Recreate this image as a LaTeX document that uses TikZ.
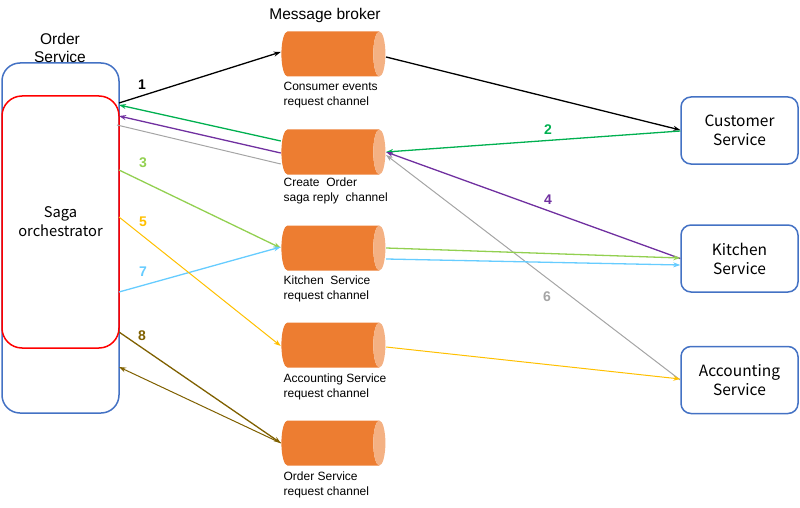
\documentclass[tikz,border=0pt]{standalone}
\usepackage{fontspec}
\setmainfont{Liberation Sans}
\newfontfamily\jpfont{Noto Sans CJK JP}
\usetikzlibrary{shapes.geometric,arrows.meta}
\definecolor{boxblue}{HTML}{4472C4}
\definecolor{sagared}{HTML}{FF0000}
\definecolor{cylbody}{HTML}{ED7D31}
\definecolor{cylend}{HTML}{F4B183}
\definecolor{cgreen}{HTML}{00B050}
\definecolor{cpurple}{HTML}{7030A0}
\definecolor{cgray}{HTML}{A5A5A5}
\definecolor{clime}{HTML}{92D050}
\definecolor{csky}{HTML}{66CCFF}
\definecolor{cyellow}{HTML}{FFC000}
\definecolor{cbrown}{HTML}{7F6000}
\begin{document}
\begin{tikzpicture}[x=1pt,y=-1pt,>={Stealth[length=7pt,width=5pt]},line width=1.3pt,
  chan/.style={cylinder,aspect=0.27,minimum width=45pt,minimum height=104pt,inner xsep=0pt,inner ysep=22.5pt,
    cylinder uses custom fill,cylinder body fill=cylbody,cylinder end fill=cylend,draw=none},
  chanlabel/.style={anchor=north west,align=left,font=\fontsize{12}{15}\selectfont,inner sep=0pt},
  svc/.style={draw=boxblue,line width=1.5pt,rounded corners=10pt,minimum width=117pt,minimum height=67pt,
    align=center,font=\jpfont\fontsize{15.5}{19}\selectfont},
  num/.style={font=\bfseries\fontsize{14}{14}\selectfont}]
\useasboundingbox (0,0) rectangle (800,508);
% order service and saga orchestrator
\node[draw=boxblue,line width=1.5pt,rounded corners=18pt,minimum width=117pt,minimum height=350pt] (os) at (60.5,238) {};
\node[draw=sagared,line width=1.5pt,rounded corners=20pt,minimum width=117pt,minimum height=252pt,align=center,
  font=\jpfont\fontsize{14.7}{19}\selectfont] (saga) at (60.5,222) {Saga\\orchestrator};
\node[align=center,font=\fontsize{15.5}{18}\selectfont] (oslabel) at (60,48) {Order\\Service};
% message broker channels
\node[font=\fontsize{15.5}{17}\selectfont] (broker) at (325,15) {Message broker};
\node[chan] (ce) at (327,54) {};
\node[chan] (cr) at (327,152) {};
\node[chan] (ks) at (327,248) {};
\node[chan] (as) at (327,345) {};
\node[chan] (osr) at (327,443) {};
\node[chanlabel] at (283,81) {Consumer events\\request channel};
\node[chanlabel] at (283,177) {Create\ \ Order\\saga reply\ \ channel};
\node[chanlabel] at (283,275) {Kitchen\ \ Service\\request channel};
\node[chanlabel] at (283,373) {Accounting Service\\request channel};
\node[chanlabel] at (283,471) {Order Service\\request channel};
% services
\node[svc] (cust) at (739.5,130.5) {Customer\\Service};
\node[svc] (kit) at (739.5,258.5) {Kitchen\\Service};
\node[svc] (acc) at (739.5,380) {Accounting\\Service};
% end points on the saga box
\coordinate (o1) at (119,103);
\coordinate (o2) at (119,105);
\coordinate (o4) at (119,116);
\coordinate (o6) at (117,125);
\coordinate (o3) at (119,170);
\coordinate (o5) at (119,217);
\coordinate (o7) at (119,292);
\coordinate (o8) at (119,332);
\coordinate (o8r) at (119,367);
% 1
\draw[->,black] (o1) -- ([yshift=2pt]ce.west);
\draw[->,black] ([yshift=-3pt]ce.east) -- ([yshift=0.5pt]cust.west);
% 2
\draw[->,cgreen] ([yshift=-0.5pt]cust.west) -- (cr.east);
\draw[->,cgreen] ([yshift=11pt]cr.west) -- (o2);
% 4
\draw[->,cpurple] (kit.west) -- (cr.east);
\draw[->,cpurple] ([yshift=-1pt]cr.west) -- (o4);
% 6
\draw[->,cgray,line width=1pt] (acc.west) -- ([yshift=-3pt]cr.east);
\draw[cgray,line width=1pt] ([yshift=-12pt]cr.west) -- (o6);
% 3
\draw[->,clime] (o3) -- (ks.west);
\draw[->,clime] (ks.east) -- ([yshift=0.5pt]kit.west);
% 7
\draw[->,csky] (o7) -- ([yshift=1pt]ks.west);
\draw[->,csky] ([yshift=-11pt]ks.east) -- ([yshift=-6.5pt]kit.west);
% 5
\draw[->,cyellow,line width=1pt] (o5) -- ([yshift=-1pt]as.west);
\draw[->,cyellow,line width=1pt] ([yshift=-2pt]as.east) -- ([yshift=1pt]acc.west);
% 8
\draw[->,cbrown] (o8) -- (osr.west);
\draw[->,cbrown,line width=1pt] (osr.west) -- (o8r);
% step numbers
\node[num] at (142,85) {1};
\node[num,text=cgreen] at (548,130) {2};
\node[num,text=clime] at (143,163) {3};
\node[num,text=cpurple] at (548,200) {4};
\node[num,text=cyellow] at (143,222) {5};
\node[num,text=cgray] at (547,297) {6};
\node[num,text=csky] at (143,272) {7};
\node[num,text=cbrown] at (142,336) {8};
\end{tikzpicture}
\end{document}
